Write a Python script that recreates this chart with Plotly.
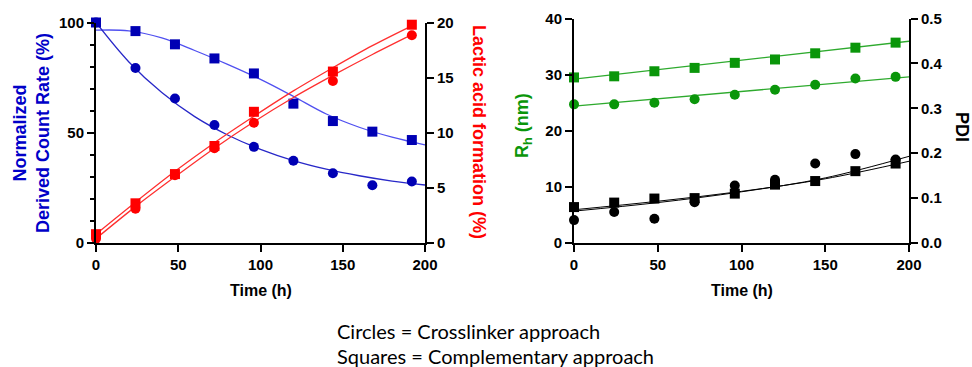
import plotly.graph_objects as go

W, H = 972, 367

# ---------------- data ----------------
time_h = [0, 24, 48, 72, 96, 120, 144, 168, 192]
dcr_circles = [100, 79.4, 65.5, 53.5, 43.6, 37.3, 31.6, 26.2, 27.9]
dcr_squares = [100, 96.1, 90.1, 83.7, 76.9, 63.2, 55.3, 50.5, 46.7]

time_la = [0, 24, 48, 72, 96, 144, 192]
lactic_squares = [0.8, 3.6, 6.25, 8.8, 11.9, 15.55, 19.8]
lactic_circles = [0.4, 3.1, 6.15, 8.6, 10.9, 14.7, 18.85]

rh_squares = [29.5, 29.7, 30.6, 31.2, 32.1, 32.7, 33.8, 34.8, 35.7]
rh_circles = [24.7, 24.7, 25.0, 25.6, 26.4, 27.3, 28.2, 29.3, 29.6]
pdi_squares = [0.080, 0.090, 0.099, 0.100, 0.110, 0.130, 0.138, 0.160, 0.177]
pdi_circles = [0.051, 0.069, 0.054, 0.091, 0.128, 0.141, 0.177, 0.198, 0.186]

# fitted curves
fit_t = [0, 20, 40, 60, 80, 100, 120, 140, 160, 180, 200]
fit_dcr_circles = [100, 82.1, 68.2, 57.3, 49.0, 42.5, 37.4, 33.5, 30.5, 28.1, 26.3]
fit_dcr_squares = [96.5, 96.2, 93.0, 87.3, 81.0, 74.2, 66.5, 58.5, 52.5, 48.0, 44.5]

fit_t_la = [0, 24, 48, 72, 96, 120, 144, 168, 192]
fit_la_squares = [0.8, 3.7, 6.5, 9.1, 11.5, 13.8, 15.9, 17.9, 19.7]
fit_la_circles = [0.4, 3.3, 6.0, 8.6, 11.0, 13.2, 15.2, 17.1, 18.9]

fit_t_lin = [0, 200]
fit_rh_squares = [29.2, 35.95]
fit_rh_circles = [24.4, 29.6]

fit_t_pdi = [0, 50, 100, 150, 200]
fit_pdi_circles = [0.071, 0.090, 0.114, 0.145, 0.193]
fit_pdi_squares = [0.074, 0.093, 0.115, 0.143, 0.182]

x_ticks = [0, 50, 100, 150, 200]

# ---------------- style ----------------
FONT = "Liberation Sans, Arial, sans-serif"
BLUE = "#0000B4"
BLUE_SQ_LINE = "#5050F0"
BLUE_CI_LINE = "#2828C8"
RED = "#FF0000"
RED_LINE = "#FF3030"
GREEN = "#0A960A"
GREEN_LINE = "#2EAA2E"
GREEN_TITLE = "#0A960A"


def px(x):
    return x / W


def py(y):
    return 1 - y / H


fig = go.Figure()


def add(x, y, xa, ya, mode, color, symbol=None, width=1.3, shape="linear"):
    if mode == "markers":
        fig.add_trace(go.Scatter(x=x, y=y, xaxis=xa, yaxis=ya, mode="markers",
                                 marker=dict(symbol=symbol, size=10, color=color,
                                             line=dict(width=0)),
                                 cliponaxis=False, showlegend=False))
    else:
        fig.add_trace(go.Scatter(x=x, y=y, xaxis=xa, yaxis=ya, mode="lines",
                                 line=dict(color=color, width=width, shape=shape),
                                 cliponaxis=False, showlegend=False))


# left panel
add(fit_t, fit_dcr_squares, "x", "y", "lines", BLUE_SQ_LINE, shape="spline")
add(fit_t, fit_dcr_circles, "x", "y", "lines", BLUE_CI_LINE, shape="spline")
add(time_h, dcr_squares, "x", "y", "markers", BLUE, "square")
add(time_h, dcr_circles, "x", "y", "markers", BLUE, "circle")
add(fit_t_la, fit_la_squares, "x", "y2", "lines", RED_LINE, shape="spline")
add(fit_t_la, fit_la_circles, "x", "y2", "lines", RED_LINE, shape="spline")
add(time_la, lactic_squares, "x", "y2", "markers", RED, "square")
add(time_la, lactic_circles, "x", "y2", "markers", RED, "circle")

# right panel
add(fit_t_lin, fit_rh_squares, "x2", "y3", "lines", GREEN_LINE)
add(fit_t_lin, fit_rh_circles, "x2", "y3", "lines", GREEN_LINE)
add(time_h, rh_squares, "x2", "y3", "markers", GREEN, "square")
add(time_h, rh_circles, "x2", "y3", "markers", GREEN, "circle")
add(fit_t_pdi, fit_pdi_circles, "x2", "y4", "lines", "#000000", width=1, shape="spline")
add(fit_t_pdi, fit_pdi_squares, "x2", "y4", "lines", "#000000", width=1, shape="spline")
add(time_h, pdi_squares, "x2", "y4", "markers", "#000000", "square")
add(time_h, pdi_circles, "x2", "y4", "markers", "#000000", "circle")

tickfont = dict(family=FONT, size=15, color="#000000", weight="bold")
common = dict(showgrid=False, zeroline=False, showline=True, linecolor="#000000",
              linewidth=2, ticks="outside", ticklen=7, tickwidth=2,
              tickcolor="#000000", tickfont=tickfont, fixedrange=True,
              automargin=False)

bottom = py(243)
fig.update_layout(
    width=W, height=H,
    margin=dict(l=0, r=0, t=0, b=0, autoexpand=False),
    paper_bgcolor="white", plot_bgcolor="white",
    showlegend=False,
    xaxis=dict(domain=[px(96), px(425)], range=[0, 200], tickvals=x_ticks,
               anchor="y", **common),
    yaxis=dict(domain=[bottom, py(22.5)], range=[0, 100], tickvals=[0, 50, 100],
               anchor="x", side="left",
               minor=dict(tickvals=[10, 20, 30, 40, 60, 70, 80, 90], ticklen=4,
                          tickwidth=2, tickcolor="#000000", ticks="outside"),
               **common),
    yaxis2=dict(domain=[bottom, py(22.5)], range=[0, 20], tickvals=[0, 5, 10, 15, 20],
                anchor="x", overlaying="y", side="right", **common),
    xaxis2=dict(domain=[px(574), px(909)], range=[0, 200], tickvals=x_ticks,
                anchor="y3", **common),
    yaxis3=dict(domain=[bottom, py(18.5)], range=[0, 40], tickvals=[0, 10, 20, 30, 40],
                anchor="x2", side="left", **common),
    yaxis4=dict(domain=[bottom, py(18.5)], range=[0, 0.5],
                tickvals=[0, 0.1, 0.2, 0.3, 0.4, 0.5], tickformat=".1f",
                anchor="x2", overlaying="y3", side="right", **common),
)


def ann(text, x, y, size, color="#000000", angle=0, family=FONT, xanchor="center"):
    fig.add_annotation(text=text, x=px(x), y=py(y), xref="paper", yref="paper",
                       showarrow=False, textangle=angle, xanchor=xanchor,
                       yanchor="middle",
                       font=dict(family=family, size=size, color=color))


ann("<b>Normalized</b><br><b>Derived Count Rate (%)</b>", 31, 133, 18, "#0000C8", -90)
ann("<b>Lactic acid formation (%)</b>", 479, 132, 18, RED, 90)
ann("<b>R<sub>h</sub> (nm)</b>", 524, 126, 18, GREEN_TITLE, -90)
ann("<b>PDI</b>", 962, 127, 18, "#000000", 90)
ann("<b>Time (h)</b>", 260.5, 290, 16)
ann("<b>Time (h)</b>", 741.5, 290, 16)
ann("Circles = Crosslinker approach", 335, 331, 20, family="Lato, Carlito, sans-serif",
    xanchor="left")
ann("Squares = Complementary approach", 335, 356, 20, family="Lato, Carlito, sans-serif",
    xanchor="left")

fig.write_html("out.html", config={"displayModeBar": False},
               post_script="document.body.style.margin='0';document.body.style.overflow='hidden';")
